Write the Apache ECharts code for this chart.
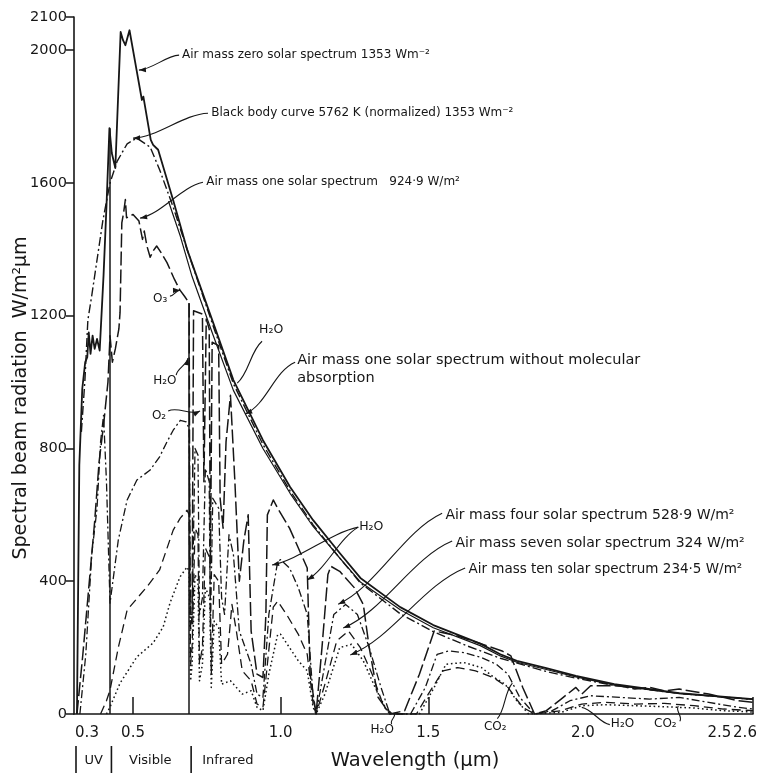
<!DOCTYPE html>
<html>
<head>
<meta charset="utf-8">
<script src="https://cdn.jsdelivr.net/npm/echarts@6/dist/echarts.min.js"></script>
<style>
  html, body { margin: 0; padding: 0; background: #fff; }
  #chart { width: 763px; height: 780px; }
</style>
</head>
<body>
<div id="chart"></div>
<script>
// Axis ticks
const xTicks = [0.3, 0.5, 1.0, 1.5, 2.0, 2.5, 2.6];
const yTicks = [0, 400, 800, 1200, 1600, 2000, 2100];

// Spectral regions below the wavelength axis
const bandEdges = [0.3, 0.42, 0.69];
const bandNames = ['UV', 'Visible', 'Infrared'];
// Vertical region boundaries drawn inside the plot: [wavelength, height]
const bandLines = [[0.42, 1765], [0.69, 1238]];

// Air mass zero solar spectrum (W/m² µm)
const am0 = [
  [0.31, 0], [0.318, 750], [0.328, 980], [0.338, 1060], [0.345, 1075], [0.35, 1150], [0.356, 1085],
  [0.363, 1140], [0.37, 1100], [0.378, 1130], [0.387, 1095], [0.40, 1320], [0.41, 1530], [0.42, 1765],
  [0.428, 1690], [0.44, 1645], [0.458, 2055], [0.466, 2030], [0.474, 2015], [0.488, 2060], [0.512, 1940],
  [0.53, 1850], [0.535, 1860], [0.56, 1730], [0.568, 1715], [0.585, 1700], [0.636, 1548], [0.683, 1400],
  [0.771, 1180], [0.84, 1006], [0.94, 825], [1.032, 684], [1.11, 584], [1.2, 485], [1.27, 410],
  [1.405, 322], [1.517, 268], [1.676, 212], [1.744, 180], [1.8, 160], [1.9, 138], [2.0, 115],
  [2.13, 90], [2.35, 63], [2.6, 45]
];

// Black body curve 5762 K, normalized
const blackBody = [
  [0.325, 850], [0.337, 1006], [0.347, 1187], [0.36, 1260], [0.375, 1350], [0.398, 1488], [0.422, 1600],
  [0.446, 1665], [0.48, 1718], [0.513, 1735], [0.558, 1708], [0.59, 1640], [0.636, 1527], [0.683, 1400],
  [0.771, 1170], [0.84, 995], [0.94, 812], [1.032, 672], [1.11, 570], [1.2, 470], [1.27, 395],
  [1.405, 302], [1.517, 248], [1.632, 205], [1.744, 168], [1.9, 128], [2.0, 108], [2.13, 86],
  [2.35, 62], [2.6, 44]
];

// Air mass one, without molecular absorption
const am1NoAbs = [
  [0.62, 1545], [0.66, 1440], [0.70, 1318], [0.771, 1142], [0.84, 975], [0.94, 800], [1.032, 665],
  [1.11, 565], [1.2, 470], [1.27, 398], [1.405, 314], [1.517, 260], [1.676, 206], [1.744, 175],
  [1.8, 156], [1.9, 134], [2.0, 112], [2.13, 87], [2.35, 61], [2.6, 44]
];

// Air mass one solar spectrum
const am1 = [
  [0.31, 0], [0.33, 180], [0.35, 380], [0.37, 580], [0.385, 760], [0.40, 870], [0.415, 1000],
  [0.422, 1140], [0.43, 1060], [0.44, 1100], [0.452, 1160], [0.456, 1210], [0.462, 1480], [0.468, 1510],
  [0.474, 1550], [0.478, 1495], [0.50, 1505], [0.52, 1485], [0.525, 1490], [0.532, 1430], [0.538, 1455],
  [0.547, 1410], [0.558, 1376], [0.568, 1395], [0.58, 1410], [0.595, 1390], [0.615, 1360], [0.64, 1310],
  [0.659, 1277], [0.675, 1258], [0.69, 1238], [0.693, 300], [0.70, 300], [0.705, 1215], [0.735, 1205],
  [0.74, 700], [0.748, 1190], [0.758, 1160], [0.762, 450], [0.768, 1120], [0.79, 1110], [0.795, 650],
  [0.805, 560], [0.815, 820], [0.83, 960], [0.845, 700], [0.86, 400], [0.875, 520], [0.89, 600],
  [0.90, 250], [0.92, 120], [0.94, 110], [0.95, 300], [0.955, 600], [0.975, 645], [0.99, 620],
  [1.03, 560], [1.07, 480], [1.09, 440], [1.10, 120], [1.12, 0], [1.14, 200], [1.16, 420], [1.17, 445],
  [1.2, 430], [1.25, 380], [1.28, 330], [1.30, 200], [1.33, 50], [1.37, 0], [1.42, 10], [1.47, 120],
  [1.52, 250], [1.55, 245], [1.6, 235], [1.65, 220], [1.7, 205], [1.75, 190], [1.78, 175], [1.82, 80],
  [1.86, 0], [1.9, 10], [1.95, 45], [2.0, 80], [2.02, 60], [2.05, 85], [2.15, 85], [2.2, 75],
  [2.25, 80], [2.3, 70], [2.35, 75], [2.45, 60], [2.55, 40], [2.6, 35]
];

// Air mass four solar spectrum
const am4 = [
  [0.32, 0], [0.34, 180], [0.36, 480], [0.378, 620], [0.39, 820], [0.40, 900], [0.41, 700], [0.422, 334],
  [0.45, 524], [0.48, 645], [0.513, 705], [0.558, 735], [0.59, 775], [0.615, 820], [0.636, 855],
  [0.66, 885], [0.68, 880], [0.69, 860], [0.695, 250], [0.70, 300], [0.71, 800], [0.72, 780],
  [0.725, 300], [0.735, 350], [0.745, 740], [0.758, 700], [0.762, 250], [0.77, 650], [0.79, 620],
  [0.80, 350], [0.81, 300], [0.825, 540], [0.84, 480], [0.86, 250], [0.88, 200], [0.90, 150],
  [0.92, 60], [0.94, 50], [0.96, 300], [0.99, 460], [1.0, 465], [1.03, 440], [1.06, 380], [1.09, 300],
  [1.11, 50], [1.12, 0], [1.15, 150], [1.18, 300], [1.22, 330], [1.26, 300], [1.3, 200], [1.34, 80],
  [1.37, 0], [1.44, 0], [1.49, 80], [1.53, 180], [1.57, 190], [1.62, 185], [1.68, 170], [1.73, 150],
  [1.77, 120], [1.81, 50], [1.86, 0], [1.92, 10], [1.98, 40], [2.05, 55], [2.15, 50], [2.25, 45],
  [2.35, 50], [2.45, 35], [2.55, 20], [2.6, 15]
];

// Air mass seven solar spectrum
const am7 = [
  [0.39, 0], [0.41, 40], [0.422, 72], [0.45, 200], [0.48, 313], [0.515, 350], [0.547, 383], [0.59, 434],
  [0.636, 554], [0.66, 590], [0.683, 614], [0.69, 600], [0.695, 150], [0.70, 200], [0.71, 560],
  [0.72, 540], [0.725, 150], [0.735, 200], [0.745, 500], [0.76, 470], [0.765, 120], [0.775, 420],
  [0.79, 400], [0.80, 150], [0.82, 180], [0.835, 330], [0.85, 250], [0.87, 130], [0.90, 100],
  [0.92, 30], [0.94, 20], [0.955, 150], [0.975, 322], [0.99, 340], [1.02, 300], [1.06, 240],
  [1.09, 180], [1.11, 30], [1.12, 0], [1.15, 90], [1.19, 220], [1.23, 250], [1.27, 200], [1.31, 120],
  [1.35, 20], [1.38, 0], [1.46, 0], [1.5, 60], [1.55, 130], [1.6, 140], [1.66, 130], [1.72, 110],
  [1.77, 80], [1.82, 20], [1.86, 0], [1.95, 10], [2.02, 30], [2.1, 35], [2.2, 30], [2.3, 32],
  [2.4, 25], [2.5, 15], [2.6, 10]
];

// Air mass ten solar spectrum
const am10 = [
  [0.41, 0], [0.422, 21], [0.456, 93], [0.513, 172], [0.568, 214], [0.602, 262], [0.625, 334],
  [0.659, 413], [0.683, 443], [0.69, 430], [0.695, 100], [0.70, 150], [0.71, 420], [0.72, 400],
  [0.725, 100], [0.735, 150], [0.745, 380], [0.76, 350], [0.765, 80], [0.775, 280], [0.79, 260],
  [0.80, 90], [0.83, 100], [0.85, 80], [0.87, 60], [0.9, 70], [0.92, 20], [0.94, 10], [0.96, 120],
  [0.99, 240], [1.0, 240], [1.03, 200], [1.06, 160], [1.09, 130], [1.11, 20], [1.12, 0], [1.15, 60],
  [1.2, 200], [1.24, 210], [1.28, 160], [1.32, 80], [1.36, 10], [1.38, 0], [1.47, 0], [1.52, 80],
  [1.56, 150], [1.62, 155], [1.68, 140], [1.72, 112], [1.76, 90], [1.8, 40], [1.84, 0], [1.95, 5],
  [2.02, 25], [2.1, 28], [2.2, 25], [2.3, 22], [2.4, 18], [2.5, 10], [2.6, 6]
];

const INK = '#161616';
const FONT = 'DejaVu Sans';

// Callouts: text anchor, leader start and arrow tip(s), all in wavelength / irradiance units
const notes = [
  { text: 'Air mass zero solar spectrum 1353 Wm⁻²', at: [0.666, 1985], align: 'left', size: 12,
    from: [0.656, 1985], tips: [[0.52, 1940]], bend: 4, arrow: true },
  { text: 'Black body curve 5762 K (normalized) 1353 Wm⁻²', at: [0.765, 1810], align: 'left', size: 12,
    from: [0.754, 1810], tips: [[0.50, 1735]], bend: 7, arrow: true },
  { text: 'Air mass one solar spectrum   924·9 W/m²', at: [0.748, 1602], align: 'left', size: 12,
    from: [0.737, 1602], tips: [[0.524, 1494]], bend: 7, arrow: true },
  { text: 'O₃', at: [0.592, 1250], align: 'center', size: 12,
    from: [0.625, 1259], tips: [[0.659, 1277]], bend: 2, arrow: true },
  { text: 'H₂O', at: [0.968, 1157], align: 'center', size: 12.5,
    from: [0.937, 1123], tips: [[0.853, 997]], bend: 5, arrow: false },
  { text: 'Air mass one solar spectrum without molecular', at: [1.056, 1066], align: 'left', size: 14.5,
    from: [1.049, 1060], tips: [[0.88, 904]], bend: 9, arrow: true },
  { text: 'absorption', at: [1.056, 1013], align: 'left', size: 14.5 },
  { text: 'H₂O', at: [0.608, 1003], align: 'center', size: 12,
    from: [0.646, 1021], tips: [[0.686, 1072]], bend: -3, arrow: true },
  { text: 'O₂', at: [0.588, 898], align: 'center', size: 12,
    from: [0.619, 913], tips: [[0.727, 913]], bend: -5, arrow: true },
  { text: 'H₂O', at: [1.307, 563], align: 'center', size: 12.5,
    from: [1.263, 563], tips: [[0.971, 449], [1.09, 404]], bend: 6, arrow: true },
  { text: 'Air mass four solar spectrum 528·9 W/m²', at: [1.558, 599], align: 'left', size: 14,
    from: [1.547, 605], tips: [[1.195, 331]], bend: 12, arrow: true },
  { text: 'Air mass seven solar spectrum 324 W/m²', at: [1.592, 515], align: 'left', size: 14,
    from: [1.581, 521], tips: [[1.212, 259]], bend: 12, arrow: true },
  { text: 'Air mass ten solar spectrum 234·5 W/m²', at: [1.636, 434], align: 'left', size: 13.5,
    from: [1.625, 440], tips: [[1.236, 178]], bend: 12, arrow: true },
  { text: 'H₂O', at: [1.344, -48], align: 'center', size: 12,
    from: [1.376, -30], tips: [[1.385, 3]], bend: -3, arrow: false },
  { text: 'CO₂', at: [1.727, -40], align: 'center', size: 12,
    from: [1.734, -14], tips: [[1.785, 93]], bend: 4, arrow: false },
  { text: 'H₂O', at: [2.158, -30], align: 'center', size: 12,
    from: [2.115, -32], tips: [[2.02, 20]], bend: -4, arrow: false },
  { text: 'CO₂', at: [2.303, -30], align: 'center', size: 12,
    from: [2.352, -22], tips: [[2.347, 24]], bend: 4, arrow: false }
];

const chart = echarts.init(document.getElementById('chart'), null, { renderer: 'canvas' });

function curve(name, data, dash, width, z) {
  return {
    name, type: 'line', data, showSymbol: false, symbol: 'none', smooth: false,
    lineStyle: { color: INK, width, type: dash, cap: 'butt', join: 'round' },
    z, silent: true, animation: false
  };
}

function xLabel(v) {
  const near = (a) => Math.abs(v - a) < 1e-6;
  if (near(0.3)) return '{l|0.3}';
  if (near(2.0)) return '{m|2.0}';
  if (near(2.5)) return '{r|2.5}';
  if (near(2.6)) return '{e|2.6}';
  return v.toFixed(1);
}

const labelText = { fontFamily: FONT, fontSize: 15, color: INK };

const am0Series = curve('Air mass zero', am0, 'solid', 1.8, 6);
am0Series.markLine = {
  symbol: 'none', silent: true, animation: false,
  label: { show: false },
  lineStyle: { color: INK, width: 1.5, type: 'solid' },
  data: bandLines.map(([x, h]) => [{ coord: [x, 0] }, { coord: [x, h] }])
};

chart.setOption({
  animation: false,
  backgroundColor: '#fff',
  grid: { left: 74, right: 10, top: 17, bottom: 66, containLabel: false },
  xAxis: {
    type: 'value', min: 0.3, max: 2.6,
    axisLine: { show: true, lineStyle: { color: INK, width: 1.6 } },
    splitLine: { show: false },
    axisTick: { show: true, inside: true, length: 17, customValues: [0.5, 1.0, 1.5, 2.6],
      lineStyle: { color: INK, width: 1.5 } },
    axisLabel: {
      customValues: xTicks, margin: 12, formatter: xLabel, ...labelText,
      rich: {
        l: { ...labelText, padding: [0, 0, 0, 26] },
        m: { ...labelText, padding: [0, 0, 0, 14] },
        r: { ...labelText, padding: [0, 8, 0, 0] },
        e: { ...labelText, padding: [0, 16, 0, 0] }
      }
    }
  },
  yAxis: {
    type: 'value', min: 0, max: 2100,
    axisLine: { show: true, lineStyle: { color: INK, width: 1.6 } },
    splitLine: { show: false },
    axisTick: { show: true, length: 8, customValues: yTicks, lineStyle: { color: INK, width: 1.5 } },
    axisLabel: { customValues: yTicks, margin: 7, formatter: (v) => String(v),
      ...labelText, fontSize: 14.5 }
  },
  series: [
    am0Series,
    curve('Air mass one without molecular absorption', am1NoAbs, 'solid', 1.2, 5),
    curve('Black body 5762 K', blackBody, [9, 3, 2, 3], 1.4, 5),
    curve('Air mass one', am1, [14, 4], 1.5, 4),
    curve('Air mass four', am4, [8, 3, 2, 3], 1.3, 3),
    curve('Air mass seven', am7, [9, 5], 1.3, 3),
    curve('Air mass ten', am10, [1.6, 2.8], 1.5, 3)
  ]
});

// Callouts, region labels and axis titles placed through the grid's coordinate system
function px(p) { return chart.convertToPixel({ gridIndex: 0 }, p); }

const g = [];
const textEl = (text, x, y, size, align, extra) => Object.assign({
  type: 'text', x, y, silent: true, z: 20,
  style: { text, fill: INK, font: size + 'px "' + FONT + '"',
    align, verticalAlign: 'middle', textAlign: align, textVerticalAlign: 'middle' }
}, extra || {});

notes.forEach((n) => {
  const a = px(n.at);
  g.push(textEl(n.text, a[0], a[1], n.size, n.align));
  if (!n.tips) return;
  const s = px(n.from);
  n.tips.forEach((t) => {
    const e = px(t);
    const dx = e[0] - s[0], dy = e[1] - s[1];
    const len = Math.hypot(dx, dy) || 1;
    const nx = -dy / len, ny = dx / len;
    const c1 = [s[0] + dx * 0.3 + nx * n.bend, s[1] + dy * 0.3 + ny * n.bend];
    const c2 = [s[0] + dx * 0.7 - nx * n.bend, s[1] + dy * 0.7 - ny * n.bend];
    g.push({ type: 'bezierCurve', silent: true, z: 20,
      shape: { x1: s[0], y1: s[1], x2: e[0], y2: e[1], cpx1: c1[0], cpy1: c1[1], cpx2: c2[0], cpy2: c2[1] },
      style: { stroke: INK, lineWidth: 1.1, fill: null } });
    if (n.arrow) {
      const ux = e[0] - c2[0], uy = e[1] - c2[1];
      const ul = Math.hypot(ux, uy) || 1;
      const fx = ux / ul, fy = uy / ul;
      const L = 7, W = 2.6;
      g.push({ type: 'polygon', silent: true, z: 21,
        shape: { points: [[e[0], e[1]],
          [e[0] - fx * L - fy * W, e[1] - fy * L + fx * W],
          [e[0] - fx * L + fy * W, e[1] - fy * L - fx * W]] },
        style: { fill: INK } });
    }
  });
});

// Spectral regions under the wavelength axis
const base = px([0.3, 0])[1];
bandEdges.forEach((x) => {
  const p = px([x, 0]);
  g.push({ type: 'line', silent: true, z: 20,
    shape: { x1: p[0] + 2, y1: base + 32, x2: p[0] + 2, y2: base + 59 },
    style: { stroke: INK, lineWidth: 1.6 } });
});
const e0 = px([bandEdges[0], 0])[0], e1 = px([bandEdges[1], 0])[0], e2 = px([bandEdges[2], 0])[0];
g.push(textEl(bandNames[0], (e0 + e1) / 2 + 2, base + 47, 13, 'center'));
g.push(textEl(bandNames[1], (e1 + e2) / 2 + 1, base + 47, 13, 'center'));
g.push(textEl(bandNames[2], e2 + 13, base + 47, 13, 'left'));

// Axis titles
g.push(textEl('Wavelength (µm)', 415, base + 47, 19.5, 'center'));
g.push(textEl('Spectral beam radiation  W/m²µm', 21, 398, 19, 'center', { rotation: Math.PI / 2 }));

chart.setOption({ graphic: g });
</script>
</body>
</html>
